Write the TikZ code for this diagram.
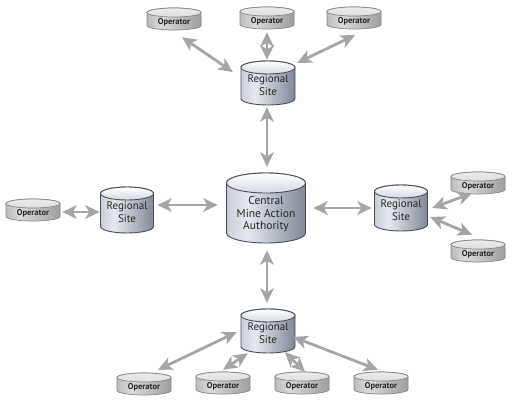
\documentclass[tikz,border=0pt]{standalone}
\usepackage{fontspec}
\setmainfont{PT Sans}
\usetikzlibrary{arrows.meta}
\definecolor{arr}{RGB}{165,165,165}
\definecolor{regA}{RGB}{200,206,216}
\definecolor{regB}{RGB}{230,233,238}
\definecolor{regC}{RGB}{128,136,150}
\definecolor{regTb}{RGB}{212,216,224}
\definecolor{regO}{RGB}{75,78,85}
\definecolor{opA}{RGB}{188,188,188}
\definecolor{opB}{RGB}{218,218,218}
\definecolor{opC}{RGB}{158,158,158}
\definecolor{opT}{RGB}{222,222,222}
\definecolor{opO}{RGB}{135,135,135}
\pgfdeclarehorizontalshading{regshade}{100bp}{color(0bp)=(regA); color(25bp)=(regA); color(38bp)=(regB); color(75bp)=(regC); color(100bp)=(regC)}
\pgfdeclarehorizontalshading{opshade}{100bp}{color(0bp)=(opA); color(25bp)=(opA); color(38bp)=(opB); color(75bp)=(opC); color(100bp)=(opC)}
\tikzset{
  regbody/.style={shade, shading=regshade, draw=regO, line width=0.9pt},
  regtop/.style={top color=white, bottom color=regTb, draw=regO, line width=0.9pt},
  regtext/.style={inner sep=0pt, font=\fontsize{11}{12.8}\selectfont, text=black!85},
  cenbody/.style={regbody},
  centop/.style={regtop},
  centext/.style={inner sep=0pt, font=\fontsize{11.5}{12.8}\selectfont, text=black!85},
  opbody/.style={shade, shading=opshade, draw=opO, line width=0.7pt},
  optop/.style={top color=opT!60!white, bottom color=opT, draw=opO, line width=0.7pt},
  optext/.style={inner sep=0pt, font=\bfseries\fontsize{8.5}{10}\selectfont, text=black!85},
  conn/.style={draw=arr, line width=2.8pt,
    {Stealth[length=14.5pt,width=13.5pt,inset=4pt]}-{Stealth[length=14.5pt,width=13.5pt,inset=4pt]}}
}
\newcommand\cylnode[9]{%
  \pgfmathsetmacro\myxl{#2-#4/2}%
  \pgfmathsetmacro\myxr{#2+#4/2}%
  \pgfmathsetmacro\myyt{#3+#5/2-#6}%
  \pgfmathsetmacro\myyb{#3-#5/2+#6}%
  \pgfmathsetmacro\myrx{#4/2}%
  \path[#7body] (\myxl,\myyt) -- (\myxl,\myyb)
    arc[start angle=180,end angle=360,x radius=\myrx,y radius=#6]
    -- (\myxr,\myyt)
    arc[start angle=0,end angle=180,x radius=\myrx,y radius=#6] -- cycle;
  \path[#7top] (#2,\myyt) ellipse[x radius=\myrx,y radius=#6];
  \node[#7text, minimum width=#4pt, minimum height=#5pt] (#1) at (#2,#3)
    {\raisebox{-#9pt}[\height][\depth]{\begin{tabular}{@{}c@{}}#8\end{tabular}}};
}
\begin{document}
\begin{tikzpicture}[x=1pt,y=1pt]
\fill[white] (0,0) rectangle (514,-402);
\useasboundingbox (0,0) rectangle (514,-402);
% central
\cylnode{C}{266}{-208}{79}{70}{10}{cen}{Central\\Mine Action\\Authority}{6.5}
% regional sites
\cylnode{regt}{268}{-83}{54}{44}{6.5}{reg}{Regional\\Site}{3.5}
\cylnode{regb}{268}{-331}{54}{44}{6.5}{reg}{Regional\\Site}{3.5}
\cylnode{regl}{127}{-210}{53}{46}{6.5}{reg}{Regional\\Site}{3.5}
\cylnode{regr}{401}{-208}{53}{46}{6.5}{reg}{Regional\\Site}{3.5}
% operators
\cylnode{opt1}{174}{-19}{54}{22}{4.5}{op}{Operator}{3}
\cylnode{opt2}{267}{-18}{54}{22}{4.5}{op}{Operator}{3}
\cylnode{opt3}{354}{-18}{54}{22}{4.5}{op}{Operator}{3}
\cylnode{opl}{33}{-210}{54}{22}{4.5}{op}{Operator}{3}
\cylnode{opr1}{478}{-183}{54}{22}{4.5}{op}{Operator}{3}
\cylnode{opr2}{478}{-251}{54}{22}{4.5}{op}{Operator}{3}
\cylnode{opb1}{144}{-384}{54}{22}{4.5}{op}{Operator}{3}
\cylnode{opb2}{223}{-383}{54}{22}{4.5}{op}{Operator}{3}
\cylnode{opb3}{302}{-383}{54}{22}{4.5}{op}{Operator}{3}
\cylnode{opb4}{381}{-383}{54}{22}{4.5}{op}{Operator}{3}
% connectors
\draw[conn] ([shift={(8,-7)}]opt1.south) -- ([shift={(-8,11)}]regt.west);
\draw[conn] ([shift={(0,-3)}]opt2.south) -- ([shift={(-1,1)}]regt.north);
\draw[conn] ([shift={(1,-6)}]opt3.south) -- ([shift={(2,-2)}]regt.north east);
\draw[conn] ([shift={(-1,-2)}]regt.south) -- ([shift={(1,6)}]C.north);
\draw[conn] ([shift={(3.5,5)}]regl.east) -- ([shift={(-8.5,3)}]C.west);
\draw[conn] ([shift={(2,-2)}]opl.east) -- ([shift={(-0.5,-2)}]regl.west);
\draw[conn] ([shift={(7.5,0)}]C.east) -- ([shift={(-2.5,0)}]regr.west);
\draw[conn] ([shift={(4.5,0)}]regr.east) -- ([shift={(-6,1)}]opr1.south);
\draw[conn] ([shift={(2.5,-9)}]regr.east) -- ([shift={(-6,5)}]opr2.north);
\draw[conn] ([shift={(1,-7)}]C.south) -- ([shift={(-1,6)}]regb.north);
\draw[conn] ([shift={(-4,-1)}]regb.west) -- ([shift={(14,3)}]opb1.north);
\draw[conn] ([shift={(7,0)}]regb.south west) -- ([shift={(0,2)}]opb2.north);
\draw[conn] ([shift={(17,1)}]regb.south) -- ([shift={(3,0)}]opb3.north);
\draw[conn] ([shift={(-2,-6)}]regb.east) -- ([shift={(-3,2)}]opb4.north);
\end{tikzpicture}
\end{document}
